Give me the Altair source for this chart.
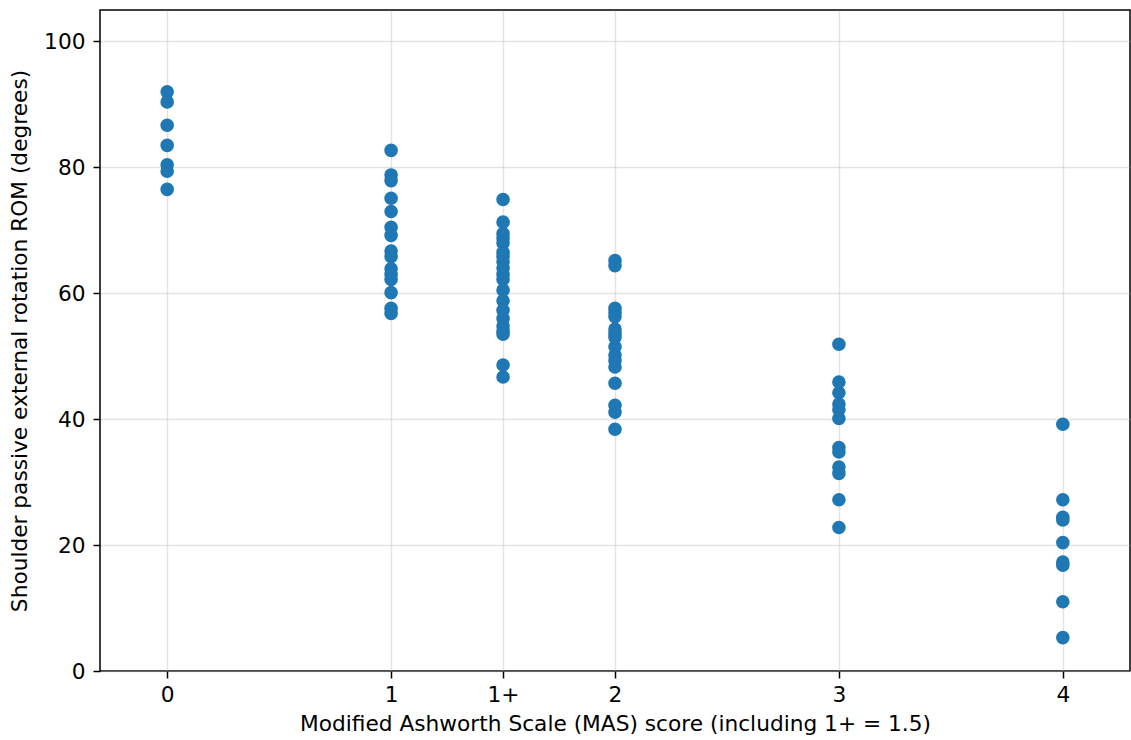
import altair as alt
import pandas as pd

# Shoulder passive external rotation ROM (degrees) by MAS score
mas_0 = [92.0, 90.4, 86.7, 83.5, 80.4, 79.4, 76.5]
mas_1 = [82.7, 78.8, 77.9, 75.1, 73.0, 70.5, 69.2, 66.7, 65.8, 63.9, 63.0, 62.2, 60.1, 57.6, 56.8]
mas_1plus = [74.9, 71.3, 69.5, 68.8, 68.0, 66.5, 65.8, 65.0, 64.0, 63.0, 62.2, 60.5,
             58.8, 57.3, 56.0, 54.8, 54.0, 53.5, 48.6, 46.7]
mas_2 = [65.2, 64.4, 57.6, 57.0, 56.3, 54.3, 53.6, 53.0, 51.5, 50.2, 49.3, 48.3, 45.7, 42.2, 41.1, 38.4]
mas_3 = [51.9, 45.9, 44.2, 42.4, 41.5, 40.1, 35.5, 34.8, 32.4, 31.4, 27.2, 22.8]
mas_4 = [39.2, 27.2, 24.4, 24.0, 20.4, 17.3, 16.8, 11.0, 5.3]

groups = [(0.0, mas_0), (1.0, mas_1), (1.5, mas_1plus), (2.0, mas_2), (3.0, mas_3), (4.0, mas_4)]
tick_values = [0, 1, 1.5, 2, 3, 4]
rows = [{"mas": score, "rom": v} for score, vals in groups for v in vals]
df = pd.DataFrame(rows)

FONT = "DejaVu Sans"

chart = (
    alt.Chart(df)
    .mark_circle(size=185, opacity=1, color="#1f77b4")
    .encode(
        x=alt.X(
            "mas:Q",
            scale=alt.Scale(domain=[-0.3, 4.3], nice=False, zero=False),
            axis=alt.Axis(
                values=tick_values,
                labelExpr="datum.value == 1.5 ? '1+' : format(datum.value, 'd')",
                title="Modified Ashworth Scale (MAS) score (including 1+ = 1.5)",
                titlePadding=8,
                labelPadding=6,
            ),
        ),
        y=alt.Y(
            "rom:Q",
            scale=alt.Scale(domain=[0, 105], nice=False),
            axis=alt.Axis(
                values=[0, 20, 40, 60, 80, 100],
                title="Shoulder passive external rotation ROM (degrees)",
                titlePadding=12,
                labelPadding=8,
            ),
        ),
    )
    .properties(
        width=1030,
        height=661,
        autosize=alt.AutoSizeParams(type="none"),
        padding={"left": 100, "top": 10, "right": 1, "bottom": 69},
    )
    .configure_view(stroke="black", strokeWidth=1.5)
    .configure_axis(
        domain=False,
        grid=True,
        gridColor="#b0b0b0",
        gridOpacity=0.35,
        gridWidth=1.4,
        tickColor="black",
        tickSize=7,
        tickWidth=1.5,
        labelFont=FONT,
        labelFontSize=21.7,
        labelColor="black",
        titleFont=FONT,
        titleFontSize=21.7,
        titleFontWeight="normal",
        titleColor="black",
    )
)

chart.save("out.html", embed_options={"renderer": "svg", "actions": False})
